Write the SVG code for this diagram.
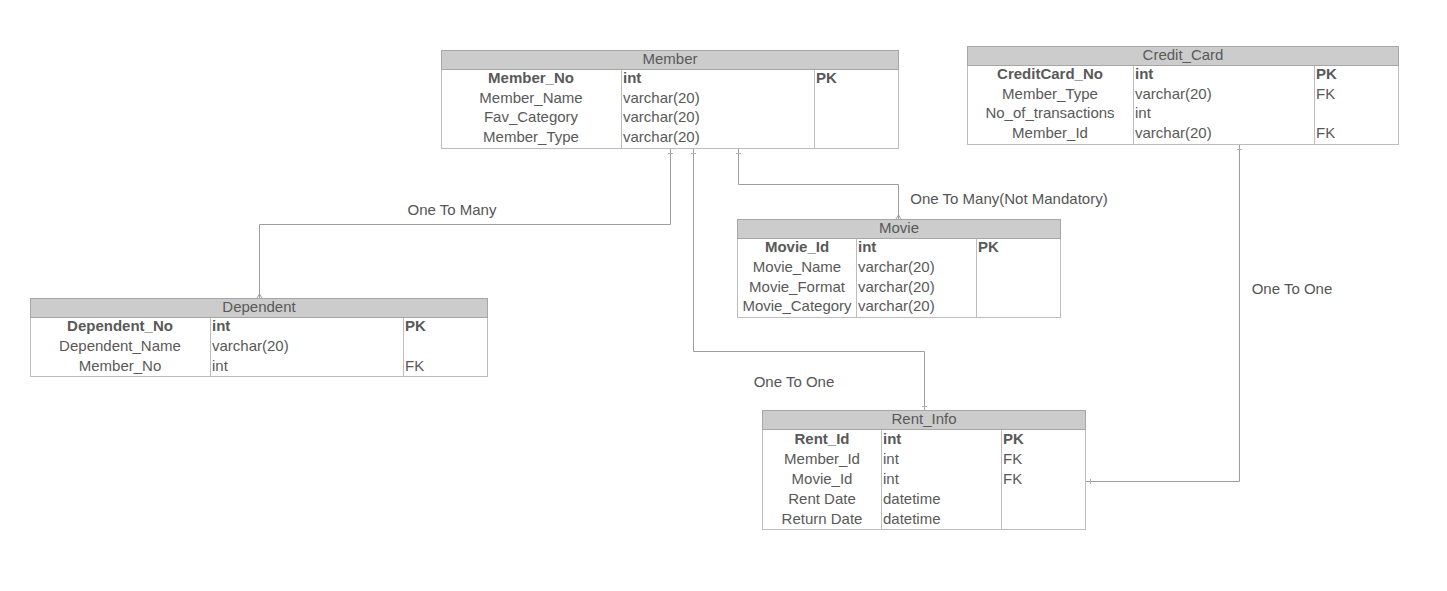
<svg xmlns="http://www.w3.org/2000/svg" width="1447" height="591" viewBox="0 0 1447 591">
<style>
text{font-family:"Liberation Sans",Arial,sans-serif;font-size:15px;fill:#595959}
.h{text-anchor:middle}
.k{text-anchor:middle}
.b{font-weight:bold}
.box{fill:#fff;stroke:#bdbdbd;stroke-width:1}
.hd{fill:#cccccc;stroke:#a6a6a6;stroke-width:1}
.cl{stroke:#bdbdbd;stroke-width:1}
.cn{fill:none;stroke:#9e9e9e;stroke-width:1}
.tk{stroke:#b0b0b0;stroke-width:1}
.lb{fill:#555}
</style>
<rect width="1447" height="591" fill="#fff"/>
<g id="connectors">
<polyline class="cn" points="670.5,149 670.5,224.5 259.5,224.5 259.5,298"/>
<polyline class="cn" points="693.5,149 693.5,351.5 924.5,351.5 924.5,410"/>
<polyline class="cn" points="738.5,149 738.5,184.5 898.5,184.5 898.5,219"/>
<polyline class="cn" points="1239.5,145 1239.5,481.5 1086,481.5"/>
<line class="tk" x1="668" y1="153.5" x2="673" y2="153.5"/>
<line class="tk" x1="691" y1="153.5" x2="696" y2="153.5"/>
<line class="tk" x1="736" y1="153.5" x2="741" y2="153.5"/>
<line class="tk" x1="1237" y1="149.5" x2="1242" y2="149.5"/>
<line class="tk" x1="922" y1="406.5" x2="927" y2="406.5"/>
<line class="tk" x1="1090.5" y1="479" x2="1090.5" y2="484"/>
<path class="cn" d="M257,298 L259.5,294 L262,298"/>
<path class="cn" d="M896,219 L898.5,215 L901,219"/>
<text class="lb" x="452" y="215" text-anchor="middle">One To Many</text>
<text class="lb" x="1009" y="204" text-anchor="middle">One To Many(Not Mandatory)</text>
<text class="lb" x="794" y="387" text-anchor="middle">One To One</text>
<text class="lb" x="1292" y="294" text-anchor="middle">One To One</text>
</g>
<g id="member">
<rect class="box" x="441.5" y="50.5" width="457" height="98"/>
<rect class="hd" x="441.5" y="50.5" width="457" height="19"/>
<line class="cl" x1="621.5" y1="70" x2="621.5" y2="148"/>
<line class="cl" x1="814.5" y1="70" x2="814.5" y2="148"/>
<text class="h" x="670" y="64">Member</text>
<text class="k b" x="531" y="83">Member_No</text><text class="b" x="623" y="83">int</text><text class="b" x="816" y="83">PK</text>
<text class="k" x="531" y="103">Member_Name</text><text x="623" y="103">varchar(20)</text>
<text class="k" x="531" y="122">Fav_Category</text><text x="623" y="122">varchar(20)</text>
<text class="k" x="531" y="142">Member_Type</text><text x="623" y="142">varchar(20)</text>
</g>
<g id="credit_card">
<rect class="box" x="967.5" y="46.5" width="431" height="98"/>
<rect class="hd" x="967.5" y="46.5" width="431" height="19"/>
<line class="cl" x1="1133.5" y1="66" x2="1133.5" y2="144"/>
<line class="cl" x1="1314.5" y1="66" x2="1314.5" y2="144"/>
<text class="h" x="1183" y="60">Credit_Card</text>
<text class="k b" x="1050" y="79">CreditCard_No</text><text class="b" x="1135" y="79">int</text><text class="b" x="1316" y="79">PK</text>
<text class="k" x="1050" y="99">Member_Type</text><text x="1135" y="99">varchar(20)</text><text x="1316" y="99">FK</text>
<text class="k" x="1050" y="118">No_of_transactions</text><text x="1135" y="118">int</text>
<text class="k" x="1050" y="138">Member_Id</text><text x="1135" y="138">varchar(20)</text><text x="1316" y="138">FK</text>
</g>
<g id="movie">
<rect class="box" x="737.5" y="219.5" width="323" height="98"/>
<rect class="hd" x="737.5" y="219.5" width="323" height="19"/>
<line class="cl" x1="856.5" y1="239" x2="856.5" y2="317"/>
<line class="cl" x1="976.5" y1="239" x2="976.5" y2="317"/>
<text class="h" x="899" y="233">Movie</text>
<text class="k b" x="797" y="252">Movie_Id</text><text class="b" x="858" y="252">int</text><text class="b" x="978" y="252">PK</text>
<text class="k" x="797" y="272">Movie_Name</text><text x="858" y="272">varchar(20)</text>
<text class="k" x="797" y="292">Movie_Format</text><text x="858" y="292">varchar(20)</text>
<text class="k" x="797" y="311">Movie_Category</text><text x="858" y="311">varchar(20)</text>
</g>
<g id="dependent">
<rect class="box" x="30.5" y="298.5" width="457" height="78"/>
<rect class="hd" x="30.5" y="298.5" width="457" height="19"/>
<line class="cl" x1="210.5" y1="318" x2="210.5" y2="376"/>
<line class="cl" x1="403.5" y1="318" x2="403.5" y2="376"/>
<text class="h" x="259" y="312">Dependent</text>
<text class="k b" x="120" y="331">Dependent_No</text><text class="b" x="212" y="331">int</text><text class="b" x="405" y="331">PK</text>
<text class="k" x="120" y="351">Dependent_Name</text><text x="212" y="351">varchar(20)</text>
<text class="k" x="120" y="371">Member_No</text><text x="212" y="371">int</text><text x="405" y="371">FK</text>
</g>
<g id="rent_info">
<rect class="box" x="762.5" y="410.5" width="323" height="119"/>
<rect class="hd" x="762.5" y="410.5" width="323" height="19"/>
<line class="cl" x1="881.5" y1="430" x2="881.5" y2="529"/>
<line class="cl" x1="1001.5" y1="430" x2="1001.5" y2="529"/>
<text class="h" x="924" y="424">Rent_Info</text>
<text class="k b" x="822" y="444">Rent_Id</text><text class="b" x="883" y="444">int</text><text class="b" x="1003" y="444">PK</text>
<text class="k" x="822" y="464">Member_Id</text><text x="883" y="464">int</text><text x="1003" y="464">FK</text>
<text class="k" x="822" y="484">Movie_Id</text><text x="883" y="484">int</text><text x="1003" y="484">FK</text>
<text class="k" x="822" y="504">Rent Date</text><text x="883" y="504">datetime</text>
<text class="k" x="822" y="524">Return Date</text><text x="883" y="524">datetime</text>
</g>
</svg>
